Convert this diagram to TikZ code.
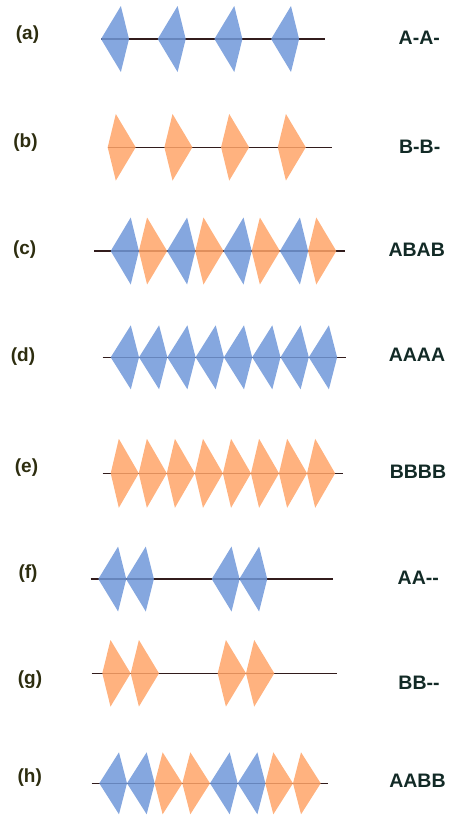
\documentclass[tikz,border=0pt]{standalone}
\usepackage{fontspec}
\setmainfont{Liberation Sans}
\definecolor{blueA}{RGB}{112,152,217}
\definecolor{orangeB}{RGB}{255,164,104}
\definecolor{lineC}{RGB}{50,28,28}
\definecolor{lblL}{RGB}{45,45,15}
\definecolor{lblR}{RGB}{18,42,38}
\tikzset{
  kiteA/.style={fill=blueA, fill opacity=0.85},
  kiteB/.style={fill=orangeB, fill opacity=0.85},
  backbone/.style={draw=lineC, line width=1.1pt},
  lbl/.style={font=\bfseries\fontsize{19}{19}\selectfont, text=lblL, inner sep=0pt},
  code/.style={font=\bfseries\fontsize{19.5}{19.5}\selectfont, text=lblR, inner sep=0pt},
}
% #1 x of left tip, #2 y of axis, #3 half height, #4 width
\newcommand\kA[4]{\fill[kiteA] ({#1},{#2}) -- ({#1+0.71*#4},{#2-#3}) -- ({#1+#4},{#2}) -- ({#1+0.71*#4},{#2+#3}) -- cycle;}
\newcommand\kB[4]{\fill[kiteB] ({#1},{#2}) -- ({#1+0.29*#4},{#2-#3}) -- ({#1+#4},{#2}) -- ({#1+0.29*#4},{#2+#3}) -- cycle;}
\begin{document}
\begin{tikzpicture}[x=1pt,y=-1pt]
\useasboundingbox (0,0) rectangle (450,815);
% backbones
\coordinate (a0) at (101,39);    \coordinate (a1) at (325,39);
\coordinate (b0) at (107.7,147.3); \coordinate (b1) at (331.7,147.3);
\coordinate (c0) at (94,251);    \coordinate (c1) at (345,251);
\coordinate (d0) at (102.7,357.3); \coordinate (d1) at (346,357.3);
\coordinate (e0) at (102.7,473.3); \coordinate (e1) at (342.7,473.3);
\coordinate (f0) at (90.7,579);  \coordinate (f1) at (333.3,579);
\coordinate (g0) at (91.7,673.3); \coordinate (g1) at (336.7,673.3);
\coordinate (h0) at (91.7,783.3); \coordinate (h1) at (328.3,783.3);
\foreach \r in {a,b,c,d,e,f,g,h} {\draw[backbone] (\r0) -- (\r1);}
% (a) A-A-
\foreach \i in {0,...,3} {\kA{101+56.7*\i}{39}{33}{28}}
% (b) B-B-
\foreach \i in {0,...,3} {\kB{107.7+56.7*\i}{147.3}{33.3}{28}}
% (c) ABAB
\foreach \i in {0,...,3} {\kA{110.7+56.4*\i}{251}{33.5}{28.2}\kB{138.9+56.4*\i}{251}{33.5}{28.2}}
% (d) AAAA
\foreach \i in {0,...,7} {\kA{110.7+28.3*\i}{357.3}{32}{28.3}}
% (e) BBBB
\foreach \i in {0,...,7} {\kB{110.7+28.05*\i}{473.3}{34.5}{28.05}}
% (f) AA--
\foreach \x in {98.3,126,211.7,239.3} {\kA{\x}{579}{32.5}{27.9}}
% (g) BB--
\foreach \x in {102.3,130.7,217.7,246} {\kB{\x}{673.3}{33.3}{28.3}}
% (h) AABB
\foreach \i in {0,1} {
  \kA{99.3+110.7*\i}{783.3}{31}{27.7}
  \kA{127+110.7*\i}{783.3}{31}{27.7}
  \kB{154.6+110.7*\i}{783.3}{31}{27.7}
  \kB{182.3+110.7*\i}{783.3}{31}{27.7}
}
% left labels
\node[lbl] (la) at (27.5,35) {(a)};
\node[lbl] (lb) at (25.5,143) {(b)};
\node[lbl] (lc) at (24.7,250) {(c)};
\node[lbl] (ld) at (23,357) {(d)};
\node[lbl] (le) at (26.5,468) {(e)};
\node[lbl] (lf) at (28,574) {(f)};
\node[lbl] (lg) at (30,680) {(g)};
\node[lbl] (lh) at (29.7,778) {(h)};
% right labels
\node[code] (ra) at (419.3,38) {A{-}A{-}};
\node[code] (rb) at (419.7,147) {B{-}B{-}};
\node[code] (rc) at (416.7,250) {ABAB};
\node[code] (rd) at (417,355) {AAAA};
\node[code] (re) at (418,472) {BBBB};
\node[code] (rf) at (418.3,578) {AA{-}{-}};
\node[code] (rg) at (419,683) {BB{-}{-}};
\node[code] (rh) at (417.5,781) {AABB};
\end{tikzpicture}
\end{document}
